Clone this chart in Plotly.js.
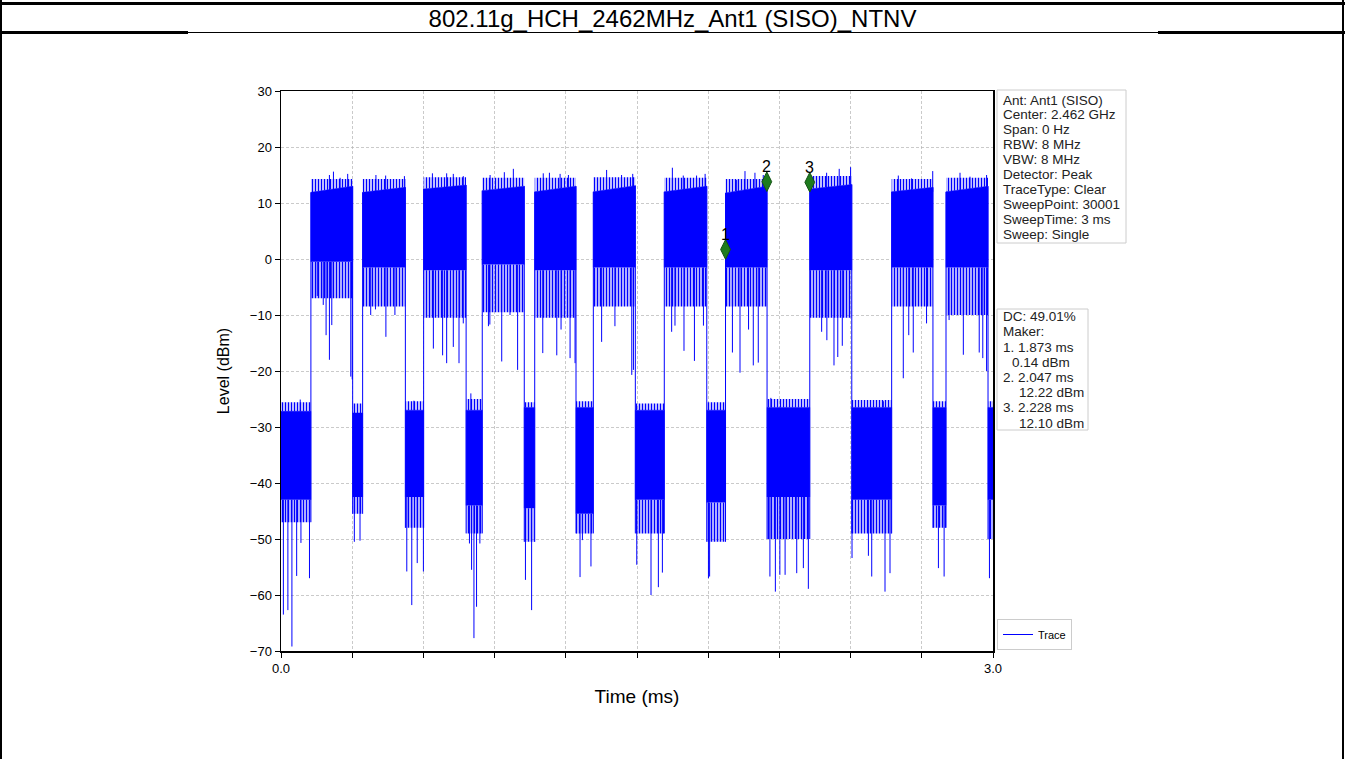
<!DOCTYPE html>
<html><head><meta charset="utf-8">
<script src="https://cdn.plot.ly/plotly-3.0.1.min.js"></script>
<style>
html,body{margin:0;padding:0;background:#fff;}
#wrap{position:relative;width:1345px;height:759px;overflow:hidden;}
#chart{position:absolute;left:0;top:0;width:1345px;height:759px;}
.ln{position:absolute;background:#000;}
</style></head><body>
<div id="wrap"><div id="chart"></div>
<div class="ln" style="left:0;top:2px;width:1345px;height:3px"></div>
<div class="ln" style="left:0;top:0;width:2px;height:759px"></div>
<div class="ln" style="left:1342px;top:0;width:2px;height:759px"></div>
<div class="ln" style="left:0;top:31px;width:188px;height:3px"></div>
<div class="ln" style="left:1158px;top:31px;width:187px;height:3px"></div>
<div class="ln" style="left:188px;top:32px;width:970px;height:1px"></div>
</div>
<script>
// ---------------- data ----------------
const chartTitle = '802.11g_HCH_2462MHz_Ant1 (SISO)_NTNV';
const xAxisTitle = 'Time (ms)';
const yAxisTitle = 'Level (dBm)';
const traceName = 'Trace';

// segment edges (ms): alternating off-level / burst segments
const segEdges = [0.000,0.126,0.302,0.344,0.524,0.601,0.780,0.848,1.025,1.069,1.243,1.316,1.493,1.615,1.794,1.873,2.048,2.228,2.405,2.573,2.747,2.802,2.979,3.000];
// level reached by the frequent small upward teeth (dBm)
const segTeeth = [-25.6,14.3,-25.8,14.3,-25.4,14.6,-25.0,14.5,-25.6,14.5,-25.4,14.6,-25.8,14.5,-25.6,14.3,-25.0,14.8,-25.2,14.3,-25.4,14.5,-25.4];
// dense upper envelope at segment start / end (dBm)
const segTop0  = [-27.2,11.9,-27.5,11.9,-27.0,12.5,-27.0,12.2,-26.5,12.0,-26.5,12.0,-27.0,12.0,-27.0,11.8,-26.5,12.5,-26.5,12.0,-26.5,12.0,-26.5];
const segTop1  = [-27.2,13.0,-27.5,12.8,-27.0,13.2,-27.0,13.0,-26.5,13.0,-26.5,13.1,-27.0,13.0,-27.0,13.0,-26.5,13.3,-26.5,12.8,-26.5,13.0,-26.5];
// solid lower edge and sparse ("hairy") lower edge (dBm)
const segSolid = [-43.0,-0.5,-42.5,-1.5,-42.5,-2.0,-44.0,-1.0,-44.5,-2.0,-45.5,-1.5,-43.0,-1.5,-43.5,-1.5,-42.5,-2.0,-43.0,-1.5,-44.0,-1.5,-43.0];
const segHair  = [-47.0,-7.0,-45.5,-8.5,-48.0,-10.5,-49.0,-9.5,-50.5,-10.5,-49.0,-8.5,-49.0,-8.5,-50.5,-8.5,-50.0,-10.5,-49.0,-8.5,-48.0,-10.0,-50.0];

// deep downward spikes
const dipTime  = [0.010,0.029,0.046,0.066,0.084,0.120,
  0.153,0.178,0.190,0.204,0.214,0.294,0.300,
  0.309,0.333,
  0.378,0.398,0.442,0.480,
  0.530,0.551,0.574,0.600,
  0.642,0.681,0.698,0.726,0.750,0.768,
  0.794,0.803,0.813,0.824,0.838,
  0.874,0.880,0.930,0.965,0.997,
  1.030,1.056,
  1.103,1.162,1.180,1.218,1.239,
  1.260,1.270,1.306,
  1.351,1.407,1.478,1.485,
  1.499,1.559,1.590,1.607,
  1.646,1.660,1.698,1.742,1.780,
  1.801,1.806,
  1.902,1.934,1.970,1.990,2.011,
  2.060,2.083,2.102,2.124,2.173,2.201,2.222,
  2.278,2.300,2.330,2.346,2.365,
  2.406,2.475,2.489,2.545,2.566,
  2.622,2.645,2.664,2.720,
  2.770,2.794,
  2.815,2.875,2.942,2.957,2.973,
  2.985];
const dipLevel = [-63.5,-62.7,-69.2,-56.6,-50.7,-57.0,
  -6.6,-8.2,-13.6,-18.0,-11.8,-21.0,-21.5,
  -50.5,-50.3,
  -10.0,-9.0,-13.9,-10.0,
  -55.8,-61.8,-54.3,-55.8,
  -16.0,-17.2,-18.6,-15.7,-18.6,-11.5,
  -50.8,-55.5,-67.7,-62.1,-50.8,
  -12.0,-11.7,-18.3,-10.0,-19.8,
  -57.3,-62.7,
  -16.8,-17.2,-12.6,-17.7,-18.6,
  -56.8,-50.2,-54.9,
  -14.8,-12.0,-20.7,-19.8,
  -54.6,-60.0,-58.6,-56.0,
  -13.0,-11.9,-16.4,-18.2,-11.9,
  -57.0,-56.7,
  -16.7,-20.3,-12.6,-19.0,-18.5,
  -56.7,-59.4,-56.4,-56.4,-56.1,-55.2,-58.9,
  -13.0,-14.5,-19.0,-17.5,-15.5,
  -53.4,-53.0,-56.7,-59.4,-56.1,
  -21.3,-13.6,-16.7,-11.5,
  -55.2,-56.7,
  -10.9,-17.1,-16.7,-17.7,-20.0,
  -57.0];

// upward peaks
const peakTime  = [0.081,0.204,0.221,0.249,0.281,0.400,0.441,0.520,0.560,0.638,0.698,0.726,0.768,0.800,
  0.881,0.941,0.979,1.105,1.131,1.176,1.211,1.372,1.435,1.482,1.649,1.695,1.751,1.787,
  1.920,1.955,1.997,2.032,2.064,2.299,2.352,2.400,2.538,2.601,2.657,2.746,2.861,2.903,2.973];
const peakLevel = [-25.1,15.0,15.6,14.5,15.2,15.0,14.9,14.8,-25.3,15.3,15.3,15.2,14.8,-24.0,
  15.0,15.5,16.1,15.3,15.4,15.2,15.0,15.9,15.0,15.2,16.3,14.9,14.9,15.2,
  14.1,15.7,15.4,15.0,-24.8,15.4,16.1,16.4,-25.4,14.9,14.4,15.7,15.4,14.7,15.0];

// markers
const markerLabels = ['1','2','3'];
const markerTime = [1.873, 2.047, 2.228];
const markerPlotLevel = [1.7, 13.8, 13.7];
const markerReportTime = ['1.873', '2.047', '2.228'];
const markerReportLevel = ['0.14', '12.22', '12.10'];
const dutyCycle = '49.01%';

const infoLines = ['Ant: Ant1 (SISO)','Center: 2.462 GHz','Span: 0 Hz','RBW: 8 MHz','VBW: 8 MHz',
  'Detector: Peak','TraceType: Clear','SweepPoint: 30001','SweepTime: 3 ms','Sweep: Single'];

const xTickVals = [0.0,0.3,0.6,0.9,1.2,1.5,1.8,2.1,2.4,2.7,3.0];
const xTickText = ['0.0','','','','','','','','','','3.0'];
const yTickVals = [-70,-60,-50,-40,-30,-20,-10,0,10,20,30];

// ---------------- build ----------------
const FONT = 'Liberation Sans, Arial, sans-serif';
const BLUE = '#0000ff';
const L = 281, R = 993, T = 91, B = 651;
const px2x = p => (p - L) / (R - L);
const py2y = p => (B - p) / (B - T);

const N = segTop0.length;
const sx = [], sy = [], hx = [], hy = [], ux = [], uy = [];
for (let i = 0; i < N; i++) {
  const a = segEdges[i], b = segEdges[i + 1];
  sx.push(a, a, b, b, null); sy.push(segSolid[i], segTop0[i], segTop1[i], segSolid[i], null);
  hx.push(a, a, b, b, null); hy.push(segHair[i], segSolid[i], segSolid[i], segHair[i], null);
  ux.push(a, a, b, b, null); uy.push(segTop0[i], segTeeth[i], segTeeth[i], segTop1[i], null);
}
function segOf(t) {
  for (let i = 0; i < N; i++) if (t >= segEdges[i] && t <= segEdges[i + 1]) return i;
  return N - 1;
}
const lx = [], ly = [];
for (let k = 0; k < dipTime.length; k++) {
  const i = segOf(dipTime[k]);
  lx.push(dipTime[k], dipTime[k], null); ly.push(segSolid[i], dipLevel[k], null);
}
for (let k = 0; k < peakTime.length; k++) {
  const i = segOf(peakTime[k]);
  lx.push(peakTime[k], peakTime[k], null); ly.push(Math.min(segTop0[i], segTop1[i]), peakLevel[k], null);
}
for (let i = 1; i < N; i++) {
  const t = segEdges[i];
  lx.push(t, t, null);
  ly.push(Math.min(segHair[i - 1], segHair[i]), Math.max(segTop1[i - 1], segTop0[i]), null);
}

const traces = [
  {type: 'scatter', mode: 'lines', x: hx, y: hy, fill: 'toself', fillcolor: 'rgba(0,0,0,0)',
   fillpattern: {shape: '|', fgcolor: BLUE, bgcolor: 'rgba(0,0,0,0)', size: 3, solidity: 0.55},
   line: {width: 0, color: BLUE}, showlegend: false, hoverinfo: 'skip'},
  {type: 'scatter', mode: 'lines', x: ux, y: uy, fill: 'toself', fillcolor: 'rgba(0,0,0,0)',
   fillpattern: {shape: '|', fgcolor: BLUE, bgcolor: 'rgba(0,0,0,0)', size: 3, solidity: 0.5},
   line: {width: 0, color: BLUE}, showlegend: false, hoverinfo: 'skip'},
  {type: 'scatter', mode: 'lines', x: sx, y: sy, fill: 'toself', fillcolor: BLUE,
   line: {width: 0.5, color: BLUE}, showlegend: false, hoverinfo: 'skip'},
  {type: 'scatter', mode: 'lines', x: lx, y: ly, name: traceName,
   line: {width: 1, color: BLUE}, showlegend: true, connectgaps: false},
  {type: 'scatter', mode: 'markers', x: markerTime, y: markerPlotLevel, showlegend: false,
   marker: {symbol: 'diamond-tall', size: 14, color: '#1e7b1e', line: {width: 1, color: '#145214'}}}
];

const annotations = [];
markerLabels.forEach((s, i) => annotations.push({
  x: markerTime[i], y: markerPlotLevel[i], xref: 'x', yref: 'y', text: s, showarrow: false,
  yshift: 15, font: {family: FONT, size: 16, color: '#000'}
}));
infoLines.forEach((s, i) => annotations.push({
  xref: 'paper', yref: 'paper', x: px2x(1001), y: py2y(100 + 14.9 * i), xanchor: 'left', yanchor: 'middle',
  text: s, showarrow: false, font: {family: FONT, size: 13.5, color: '#222'}
}));
const box2 = ['DC: ' + dutyCycle, 'Maker:'];
const box2x = [1001, 1001];
markerLabels.forEach((s, i) => {
  box2.push(s + '. ' + markerReportTime[i] + ' ms'); box2x.push(1001);
  box2.push(markerReportLevel[i] + ' dBm'); box2x.push(markerReportLevel[i].length > 4 ? 1017 : 1010);
});
box2.forEach((s, i) => annotations.push({
  xref: 'paper', yref: 'paper', x: px2x(box2x[i]), y: py2y(316.7 + 15.2 * i), xanchor: 'left', yanchor: 'middle',
  text: s, showarrow: false, font: {family: FONT, size: 13.5, color: '#222'}
}));

const shapes = [
  {type: 'rect', xref: 'paper', yref: 'paper', x0: px2x(997), x1: px2x(1126), y0: py2y(243), y1: py2y(90),
   line: {color: '#cccccc', width: 1}, fillcolor: 'rgba(255,255,255,0.8)', layer: 'below'},
  {type: 'rect', xref: 'paper', yref: 'paper', x0: px2x(997), x1: px2x(1088), y0: py2y(430), y1: py2y(309),
   line: {color: '#cccccc', width: 1}, fillcolor: 'rgba(255,255,255,0.8)', layer: 'below'}
];

const layout = {
  width: 1345, height: 759,
  margin: {l: L, r: 1345 - R, t: T, b: 759 - B, pad: 0},
  paper_bgcolor: 'rgba(0,0,0,0)', plot_bgcolor: '#ffffff',
  font: {family: FONT, color: '#000'},
  title: {text: chartTitle, font: {family: FONT, size: 24, color: '#000'},
          x: 0.5, xref: 'container', xanchor: 'center', y: 1 - 18.5 / 759, yref: 'container', yanchor: 'middle'},
  xaxis: {range: [0, 3], tickvals: xTickVals, ticktext: xTickText, ticks: 'outside', ticklen: 5, tickwidth: 1,
          tickcolor: '#000', showline: true, mirror: true, linecolor: '#000', linewidth: 1.5,
          showgrid: true, gridcolor: '#b4b4b4', griddash: '3px,2px', gridwidth: 0.7, zeroline: false,
          tickfont: {family: FONT, size: 13, color: '#000'}, automargin: false,
          title: {text: xAxisTitle, font: {family: FONT, size: 19, color: '#000'}, standoff: 14}},
  yaxis: {range: [-70, 30], tickvals: yTickVals, ticks: 'outside', ticklen: 5, tickwidth: 1,
          tickcolor: '#000', showline: true, mirror: true, linecolor: '#000', linewidth: 1.5,
          showgrid: true, gridcolor: '#b4b4b4', griddash: '3px,2px', gridwidth: 0.7, zeroline: false,
          tickfont: {family: FONT, size: 13, color: '#000'}, automargin: false,
          title: {text: yAxisTitle, font: {family: FONT, size: 16, color: '#000'}, standoff: 16}},
  showlegend: true,
  legend: {x: px2x(997), xanchor: 'left', y: py2y(650), yanchor: 'bottom', bordercolor: '#cccccc', borderwidth: 1,
           bgcolor: 'rgba(255,255,255,0.8)', font: {family: FONT, size: 11, color: '#000'}, itemwidth: 30},
  annotations: annotations, shapes: shapes
};

Plotly.newPlot('chart', traces, layout, {staticPlot: true, displayModeBar: false});
</script>
</body></html>
